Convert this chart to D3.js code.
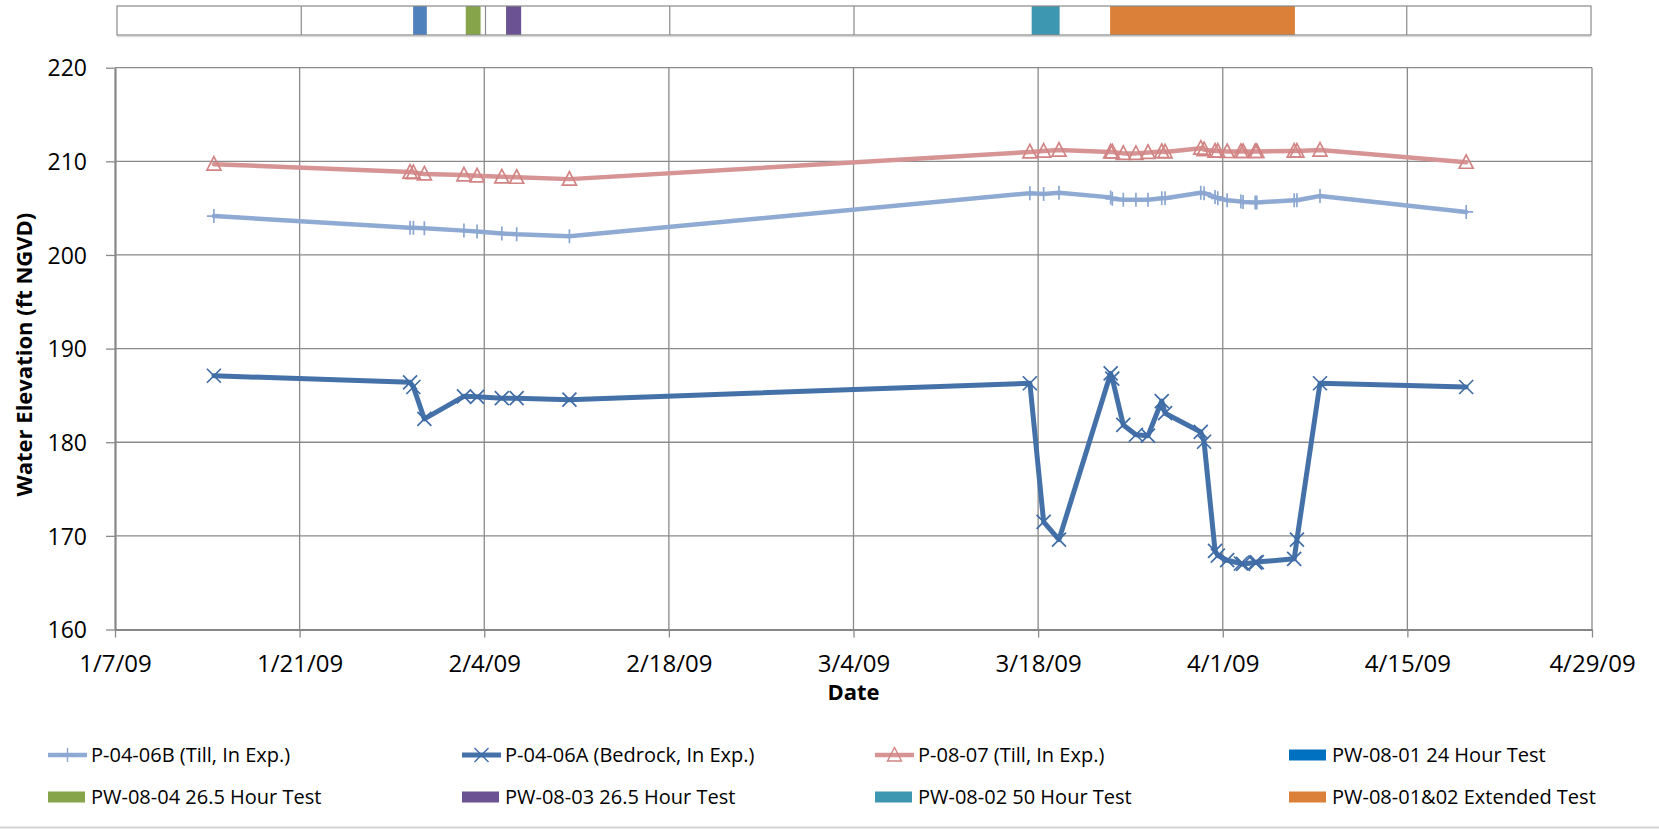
<!DOCTYPE html>
<html>
<head>
<meta charset="utf-8">
<script src="https://cdn.jsdelivr.net/npm/d3@7"></script>
<style>
  html, body { margin: 0; padding: 0; background: #fff; }
  svg { display: block; font-family: "Open Sans", "Liberation Sans", sans-serif; }
</style>
</head>
<body>
<svg id="chart" width="1659" height="829"></svg>
<script>
// ---- data ---------------------------------------------------------------
const sampleTimes = [
  "2009-01-14 12:00", "2009-01-29 09:00", "2009-01-29 15:00", "2009-01-30 11:00",
  "2009-02-02 11:00", "2009-02-03 11:00", "2009-02-05 08:00", "2009-02-06 11:00",
  "2009-02-10 11:00", "2009-03-17 09:00", "2009-03-18 10:00", "2009-03-19 14:00",
  "2009-03-23 12:00", "2009-03-23 15:00", "2009-03-24 11:00", "2009-03-25 10:00",
  "2009-03-26 08:00", "2009-03-27 09:00", "2009-03-27 15:00", "2009-03-30 08:00",
  "2009-03-30 14:00", "2009-03-31 10:00", "2009-03-31 15:00", "2009-04-01 08:00",
  "2009-04-02 09:00", "2009-04-02 13:00", "2009-04-03 11:00", "2009-04-03 14:00",
  "2009-04-06 10:00", "2009-04-06 15:00", "2009-04-08 09:00", "2009-04-19 11:00"
];

// P-04-06B (Till, In Exp.)
const p0406B = [
  204.15, 202.9, 202.9, 202.85, 202.6, 202.5, 202.3, 202.2,
  202.0, 206.6, 206.5, 206.65, 206.15, 206.0, 205.9, 205.9,
  205.9, 206.05, 206.05, 206.65, 206.6, 206.2, 206.05, 205.85,
  205.7, 205.65, 205.6, 205.6, 205.85, 205.85, 206.3, 204.6
];

// P-04-06A (Bedrock, In Exp.)
const p0406A = [
  187.1, 186.4, 185.9, 182.5, 184.9, 184.85, 184.7, 184.7,
  184.55, 186.3, 171.5, 169.6, 187.35, 186.8, 181.85, 180.8,
  180.7, 184.4, 183.1, 181.1, 180.05, 168.4, 167.9, 167.4,
  167.05, 167.0, 167.15, 167.2, 167.55, 169.6, 186.3, 185.9
];

// P-08-07 (Till, In Exp.)
const p0807 = [
  209.7, 208.85, 208.8, 208.65, 208.55, 208.45, 208.35, 208.3,
  208.1, 211.0, 211.1, 211.2, 211.0, 211.0, 210.85, 210.85,
  210.95, 211.05, 211.0, 211.4, 211.25, 211.1, 211.1, 211.05,
  211.05, 211.05, 211.05, 211.05, 211.1, 211.1, 211.2, 209.9
];

const seriesNames = ["P-04-06B (Till, In Exp.)", "P-04-06A (Bedrock, In Exp.)", "P-08-07 (Till, In Exp.)"];

// pumping test periods
const testNames = [
  "PW-08-01 24 Hour Test", "PW-08-04 26.5 Hour Test", "PW-08-03 26.5 Hour Test",
  "PW-08-02 50 Hour Test", "PW-08-01&02 Extended Test"
];
const testStarts = ["2009-01-29 12:00", "2009-02-02 12:00", "2009-02-05 13:30", "2009-03-17 12:00", "2009-03-23 11:00"];
const testEnds   = ["2009-01-30 13:00", "2009-02-03 15:00", "2009-02-06 17:00", "2009-03-19 15:00", "2009-04-06 12:00"];

const xTickLabels = ["1/7/09", "1/21/09", "2/4/09", "2/18/09", "3/4/09", "3/18/09", "4/1/09", "4/15/09", "4/29/09"];
const yTickValues = [160, 170, 180, 190, 200, 210, 220];

// ---- styling ------------------------------------------------------------
const seriesStyles = [
  { color: "#8FAAD3", markerColor: "#8BA7D1", marker: "plus",     width: 4.5 },
  { color: "#4571A9", markerColor: "#3F6CA6", marker: "cross",    width: 5 },
  { color: "#D79494", markerColor: "#D28484", marker: "triangle", width: 4.5 }
];
const testColors   = ["#4F81BD", "#86A44A", "#6B5292", "#3E97B0", "#DB8038"];
const testSwatches = ["#0070C0", "#86A44A", "#6B5292", "#3E97B0", "#DB8038"];
const gridColor = "#8A8A8A";

// ---- layout -------------------------------------------------------------
const plot = { left: 115, right: 1592, top: 67.7, bottom: 629.5 };
const strip = { left: 117, right: 1591, top: 6, bottom: 35 };

const parseTime = d3.timeParse("%Y-%m-%d %H:%M");
const parseTick = d3.timeParse("%m/%d/%y");
const xTicks = xTickLabels.map(parseTick);

const x = d3.scaleTime()
  .domain([xTicks[0], xTicks[xTicks.length - 1]])
  .range([plot.left, plot.right]);
const xs = d3.scaleTime()
  .domain(x.domain())
  .range([strip.left, strip.right]);
const y = d3.scaleLinear()
  .domain([yTickValues[0], yTickValues[yTickValues.length - 1]])
  .range([plot.bottom, plot.top]);

const svg = d3.select("#chart");

// title of the timing strip, sitting above the top edge of the page
svg.append("text")
  .attr("x", 1049).attr("y", -5)
  .attr("text-anchor", "end")
  .attr("font-size", 22).attr("font-weight", "bold")
  .attr("fill", "#000")
  .text("Test Schedule (See Legend)");

// ---- timing strip -------------------------------------------------------
const stripG = svg.append("g");
stripG.append("line")
  .attr("x1", strip.left).attr("x2", strip.right)
  .attr("y1", strip.bottom + 1.5).attr("y2", strip.bottom + 1.5)
  .attr("stroke", "#DADADA").attr("stroke-width", 1.5);
stripG.append("rect")
  .attr("x", strip.left).attr("y", strip.top)
  .attr("width", strip.right - strip.left).attr("height", strip.bottom - strip.top)
  .attr("fill", "#fff");
stripG.selectAll("line.sgrid")
  .data(xTicks.slice(1, -1))
  .join("line")
  .attr("class", "sgrid")
  .attr("x1", d => xs(d)).attr("x2", d => xs(d))
  .attr("y1", strip.top).attr("y2", strip.bottom)
  .attr("stroke", gridColor).attr("stroke-width", 1.2);
stripG.selectAll("rect.test")
  .data(testNames.map((n, i) => ({ name: n, s: parseTime(testStarts[i]), e: parseTime(testEnds[i]), c: testColors[i] })))
  .join("rect")
  .attr("class", "test")
  .attr("x", d => xs(d.s))
  .attr("width", d => xs(d.e) - xs(d.s))
  .attr("y", strip.top).attr("height", strip.bottom - strip.top)
  .attr("fill", d => d.c);
stripG.append("rect")
  .attr("x", strip.left).attr("y", strip.top)
  .attr("width", strip.right - strip.left).attr("height", strip.bottom - strip.top)
  .attr("fill", "none").attr("stroke", gridColor).attr("stroke-width", 1.2);

// ---- gridlines ----------------------------------------------------------
const grid = svg.append("g");
grid.selectAll("line.h")
  .data(yTickValues.slice(1))
  .join("line")
  .attr("x1", plot.left).attr("x2", plot.right)
  .attr("y1", d => y(d)).attr("y2", d => y(d))
  .attr("stroke", gridColor).attr("stroke-width", 1.3);
grid.selectAll("line.v")
  .data(xTicks.slice(1))
  .join("line")
  .attr("x1", d => x(d)).attr("x2", d => x(d))
  .attr("y1", plot.top).attr("y2", plot.bottom)
  .attr("stroke", gridColor).attr("stroke-width", 1.3);

// ---- axes ---------------------------------------------------------------
const xAxisG = svg.append("g")
  .attr("transform", `translate(0,${plot.bottom})`)
  .call(d3.axisBottom(x).tickValues(xTicks).tickFormat((d, i) => xTickLabels[i]).tickSize(8).tickSizeOuter(0));
xAxisG.select(".domain").attr("stroke", "#868686").attr("stroke-width", 2.2);
xAxisG.selectAll(".tick line").attr("stroke", gridColor).attr("stroke-width", 1.3);
xAxisG.selectAll(".tick text")
  .attr("y", 42).attr("dy", null)
  .attr("font-size", 24).attr("fill", "#000")
  .attr("font-family", "'Open Sans', sans-serif");

const yAxisG = svg.append("g")
  .attr("transform", `translate(${plot.left},0)`)
  .call(d3.axisLeft(y).tickValues(yTickValues).tickFormat(d3.format("d")).tickSize(9).tickSizeOuter(0));
yAxisG.select(".domain").attr("stroke", "#868686").attr("stroke-width", 2.2);
yAxisG.selectAll(".tick line").attr("stroke", gridColor).attr("stroke-width", 1.3);
yAxisG.selectAll(".tick text")
  .attr("x", -28).attr("dy", "0.36em")
  .attr("font-size", 23).attr("fill", "#000")
  .attr("font-family", "'Open Sans', sans-serif");

svg.append("text")
  .attr("x", (plot.left + plot.right) / 2).attr("y", 700)
  .attr("text-anchor", "middle")
  .attr("font-size", 22).attr("font-weight", "bold")
  .text("Date");
svg.append("text")
  .attr("transform", `translate(32,${(plot.top + plot.bottom) / 2 + 6}) rotate(-90)`)
  .attr("text-anchor", "middle")
  .attr("font-size", 22).attr("font-weight", "bold")
  .text("Water Elevation (ft NGVD)");

// ---- markers ------------------------------------------------------------
function markerPath(kind) {
  if (kind === "plus") return "M-7,0H7M0,-7V7";
  if (kind === "cross") return "M-7,-7L7,7M-7,7L7,-7";
  return "M0,-7.5L7,6L-7,6Z";
}

// ---- series -------------------------------------------------------------
const seriesValues = [p0406B, p0406A, p0807];
const series = seriesNames.map((name, i) => ({
  name,
  style: seriesStyles[i],
  points: sampleTimes.map((t, j) => ({ t: parseTime(t), v: seriesValues[i][j] }))
}));

const line = d3.line().x(d => x(d.t)).y(d => y(d.v));
const seriesG = svg.append("g");
series.forEach(s => {
  const g = seriesG.append("g");
  g.append("path")
    .datum(s.points)
    .attr("d", line)
    .attr("fill", "none")
    .attr("stroke", s.style.color)
    .attr("stroke-width", s.style.width)
    .attr("stroke-linejoin", "round")
    .attr("stroke-linecap", "round");
  g.selectAll("path.m")
    .data(s.points)
    .join("path")
    .attr("class", "m")
    .attr("transform", d => `translate(${x(d.t)},${y(d.v)})`)
    .attr("d", markerPath(s.style.marker))
    .attr("fill", "none")
    .attr("stroke", s.style.markerColor)
    .attr("stroke-width", 1.7);
});

// ---- legend -------------------------------------------------------------
const legendCols = [48, 462, 875, 1289];
const legendRows = [755, 797];
const legendItems = series.map(s => ({ name: s.name, kind: "series", style: s.style }))
  .concat(testNames.map((n, i) => ({ name: n, kind: "test", color: testSwatches[i] })));

const legend = svg.append("g");
legendItems.forEach((item, i) => {
  const cx = legendCols[i % 4];
  const cy = legendRows[Math.floor(i / 4)];
  const g = legend.append("g").attr("transform", `translate(${cx},${cy})`);
  if (item.kind === "series") {
    g.append("line")
      .attr("x1", 0).attr("x2", 39).attr("y1", 0).attr("y2", 0)
      .attr("stroke", item.style.color).attr("stroke-width", item.style.width);
    g.append("path")
      .attr("transform", "translate(19.5,0)")
      .attr("d", markerPath(item.style.marker))
      .attr("fill", "none")
      .attr("stroke", item.style.markerColor)
      .attr("stroke-width", 1.4);
  } else {
    g.append("rect")
      .attr("x", 0).attr("y", -5.5).attr("width", 37).attr("height", 11)
      .attr("fill", item.color);
  }
  g.append("text")
    .attr("x", 43).attr("y", 7)
    .attr("font-size", 20).attr("fill", "#000")
    .text(item.name);
});

// bottom rule
svg.append("line")
  .attr("x1", 0).attr("x2", 1659).attr("y1", 827.5).attr("y2", 827.5)
  .attr("stroke", "#D4D4D4").attr("stroke-width", 2);
</script>
</body>
</html>
